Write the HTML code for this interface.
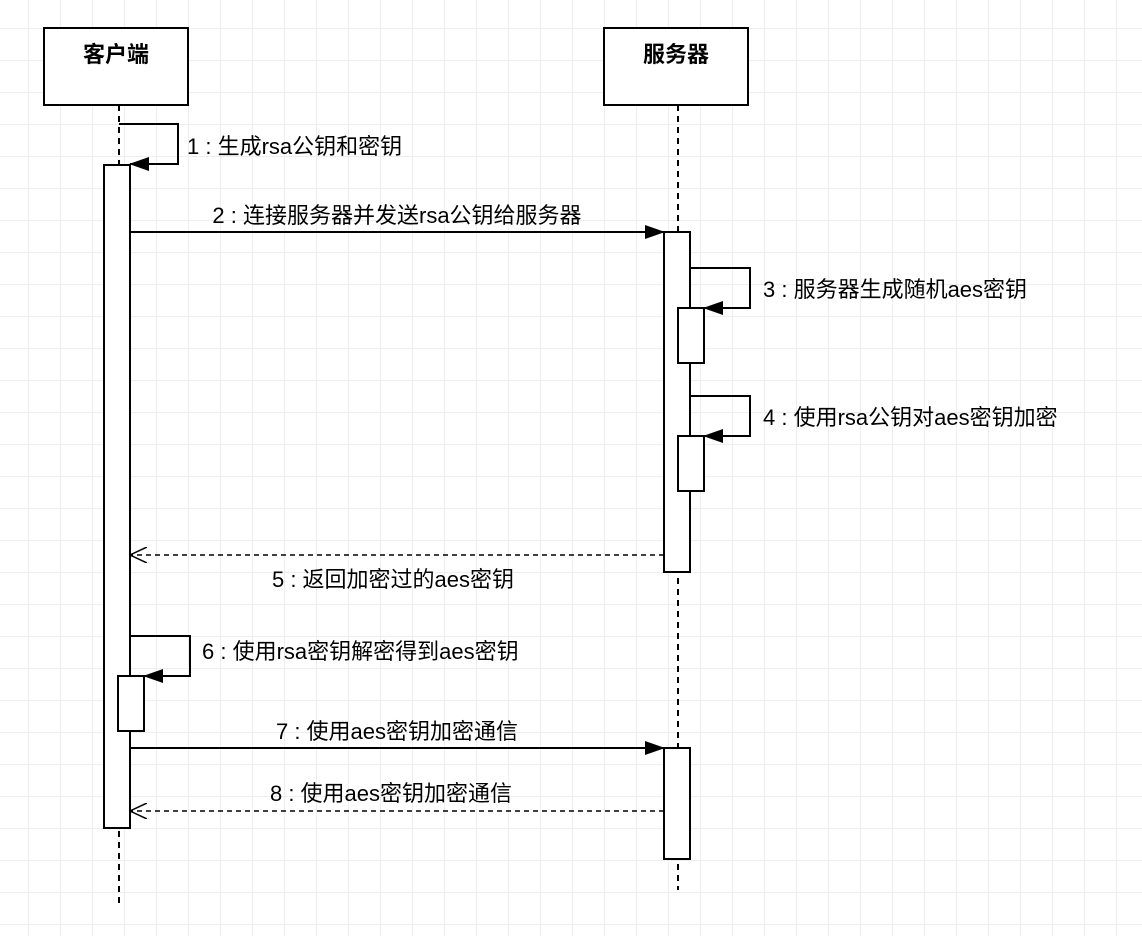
<!DOCTYPE html>
<html><head><meta charset="utf-8"><style>
body{margin:0;width:1142px;height:936px;overflow:hidden;background:#fff;
background-image:linear-gradient(#eeeeee 1px,transparent 1px),linear-gradient(90deg,#eeeeee 1px,transparent 1px);background-size:32px 32px;background-position:-4px -4px}
svg{position:absolute;left:0;top:0}
text{font-family:"Liberation Sans","Noto Sans CJK SC",sans-serif;font-size:22px;fill:#000}
</style></head><body>
<svg width="1142" height="936" xmlns="http://www.w3.org/2000/svg">
<defs>
<marker id="f" markerWidth="20" markerHeight="14" refX="19" refY="7" orient="auto" markerUnits="userSpaceOnUse"><path d="M0,0 L20,7 L0,14 Z" fill="#000"/></marker>
<marker id="o" markerWidth="18" markerHeight="16" refX="17" refY="8" orient="auto" markerUnits="userSpaceOnUse"><path d="M0,0 L17,8 L0,16" fill="none" stroke="#000" stroke-width="1.5"/></marker>
</defs>
<g stroke="#000" stroke-width="2" fill="#fff">
<line x1="119" y1="105" x2="119" y2="905" stroke-dasharray="6,5"/>
<line x1="678" y1="105" x2="678" y2="890" stroke-dasharray="6,5"/>
<rect x="44" y="28" width="144" height="77"/>
<rect x="604" y="28" width="144" height="77"/>
<rect x="104" y="165" width="26" height="663"/>
<rect x="664" y="232" width="26" height="340"/>
<rect x="678" y="308" width="26" height="55"/>
<rect x="678" y="436" width="26" height="55"/>
<rect x="118" y="676" width="26" height="55"/>
<rect x="664" y="748" width="26" height="111"/>
<polyline points="119,124 178,124 178,164 130,164" fill="none" marker-end="url(#f)"/>
<line x1="130" y1="232" x2="664" y2="232" marker-end="url(#f)"/>
<polyline points="690,268 750,268 750,308 704,308" fill="none" marker-end="url(#f)"/>
<polyline points="690,396 750,396 750,436 704,436" fill="none" marker-end="url(#f)"/>
<line x1="664" y1="555" x2="130" y2="555" stroke-width="1.5" stroke-dasharray="5,4" marker-end="url(#o)"/>
<polyline points="130,636 190,636 190,676 144,676" fill="none" marker-end="url(#f)"/>
<line x1="130" y1="748" x2="664" y2="748" marker-end="url(#f)"/>
<line x1="664" y1="811" x2="130" y2="811" stroke-width="1.5" stroke-dasharray="5,4" marker-end="url(#o)"/>
</g>
<text x="116" y="62" text-anchor="middle" font-weight="bold">客户端</text>
<text x="676" y="62" text-anchor="middle" font-weight="bold">服务器</text>
<text x="187" y="154">1 : 生成rsa公钥和密钥</text>
<text x="397" y="223" text-anchor="middle">2 : 连接服务器并发送rsa公钥给服务器</text>
<text x="763" y="297">3 : 服务器生成随机aes密钥</text>
<text x="763" y="425">4 : 使用rsa公钥对aes密钥加密</text>
<text x="393" y="587" text-anchor="middle">5 : 返回加密过的aes密钥</text>
<text x="202" y="659">6 : 使用rsa密钥解密得到aes密钥</text>
<text x="397" y="739" text-anchor="middle">7 : 使用aes密钥加密通信</text>
<text x="391" y="801" text-anchor="middle">8 : 使用aes密钥加密通信</text>
</svg>
</body></html>
